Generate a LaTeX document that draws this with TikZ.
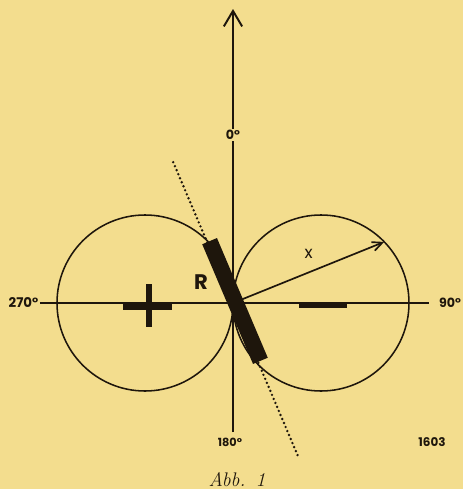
\documentclass[tikz,border=0pt]{standalone}
\usepackage{fontspec}
\setsansfont{Poppins}
\usetikzlibrary{arrows.meta}
\definecolor{paper}{RGB}{243,221,142}
\definecolor{ink}{RGB}{30,22,12}
\begin{document}
\begin{tikzpicture}[x=0.025cm,y=0.025cm,line join=round,
  deg/.style={font=\sffamily\bfseries\fontsize{9}{9}\selectfont,text=ink,inner sep=1pt},
  axis/.style={draw=ink,line width=1.4pt},
  lobe/.style={draw=ink,line width=1.1pt},
  sign/.style={draw=ink,line width=3.6pt},
  dots/.style={draw=ink,line width=1.9pt,line cap=round,dash pattern=on 0pt off 3.1pt}]
\fill[paper] (-233,-186) rectangle (230,303);
\useasboundingbox (-233,-186) rectangle (230,303);
\coordinate (O) at (0,0);
\coordinate (top) at (0,294);
\coordinate (bot) at (0,-129);
\coordinate (w) at (-193,0);
\coordinate (e) at (196,0);
\coordinate (tip) at (22:163);
\coordinate (dtop) at (113:153);
\coordinate (dbot) at (-67:167);
\node[deg] (n0) at (0,168) {0°};
\node[deg,font=\sffamily\bfseries\fontsize{8}{8}\selectfont] (n180) at (-3,-139) {180°};
\node[deg,anchor=east,font=\sffamily\bfseries\fontsize{9.5}{9.5}\selectfont] (n270) at (w) {270°};
\node[deg,anchor=west] (n90) at ([xshift=6]e) {90°};
\draw[axis] (bot) -- (n0);
\draw[axis,-{Straight Barb[length=11pt,width=13pt,line width=1.4pt]}] (n0) -- (top);
\draw[axis] (w) -- (e);
\draw[lobe] (-88,0) circle (88) (88,0) circle (88);
\draw[dots] (dtop) -- (dbot);
\node[fill=ink,minimum width=0.4cm,minimum height=3.25cm,inner sep=0pt,rotate=23] (rbar) at (2,2) {};
\node[font=\sffamily\bfseries\fontsize{15}{15}\selectfont,text=ink] (rlab) at (-32,21) {R};
\draw[lobe,line width=1.2pt,-{Straight Barb[length=7pt,width=6.5pt]}] (O) -- (tip) node[pos=0.5,above=6pt,font=\sffamily\fontsize{12}{12}\selectfont,text=ink] (xlab) {x};
\draw[sign] (-110,-4) -- (-61,-4) (-84,19) -- (-84,-24);
\draw[sign] (66,-2) -- (114,-2);
\node[deg,font=\sffamily\bfseries\fontsize{8.5}{8.5}\selectfont] (num) at (199,-139) {1603};
\node[font=\itshape\fontsize{14}{14}\selectfont,text=ink] (cap) at (4,-177) {Abb.\ \,1};
\end{tikzpicture}
\end{document}
